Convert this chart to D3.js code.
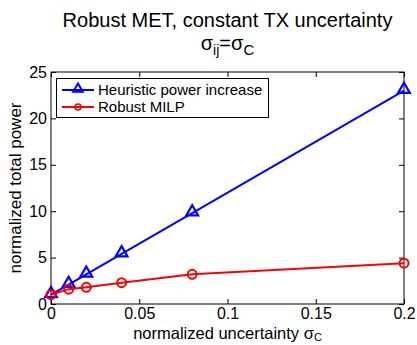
<!DOCTYPE html>
<html><head><meta charset="utf-8">
<script src="https://cdn.jsdelivr.net/npm/d3@7"></script>
<style>body{margin:0;background:#fff}svg{display:block}text{font-family:"Liberation Sans",Arial,Helvetica,sans-serif}</style>
</head><body><svg id="c" width="417" height="345"></svg>
<script>
const xValues = [0, 0.01, 0.02, 0.04, 0.08, 0.2];
const heuristic = [1, 2.1, 3.2, 5.4, 9.8, 23];
const robustMilp = [1, 1.6, 1.8, 2.3, 3.2, 4.4];
const xTicks = [0, 0.05, 0.1, 0.15, 0.2];
const yTicks = [0, 5, 10, 15, 20, 25];
const seriesNames = ["Heuristic power increase", "Robust MILP"];

const svg = d3.select("#c");
const L = 51, R = 404, T = 72, B = 304;
const x = d3.scaleLinear().domain([0, 0.2]).range([L, R]);
const y = d3.scaleLinear().domain([0, 25]).range([B, T]);

svg.append("rect").attr("x", 0).attr("y", 0).attr("width", 417).attr("height", 345).attr("fill", "#fff");

// axes
const fmt = d => d === 0 ? "0" : String(d);
svg.append("g").attr("transform", `translate(0,${B})`)
  .call(d3.axisBottom(x).tickValues(xTicks).tickSize(-5).tickPadding(4).tickFormat(fmt))
  .call(g => { g.select(".domain").remove(); g.selectAll("text").attr("font-size", 16).attr("fill", "#000"); });
svg.append("g").attr("transform", `translate(0,${T})`)
  .call(d3.axisTop(x).tickValues(xTicks).tickSize(-5).tickFormat(""))
  .call(g => g.select(".domain").remove());
svg.append("g").attr("transform", `translate(${L},0)`)
  .call(d3.axisLeft(y).tickValues(yTicks).tickSize(-5).tickPadding(4))
  .call(g => { g.select(".domain").remove(); g.selectAll("text").attr("font-size", 16).attr("fill", "#000"); });
svg.append("g").attr("transform", `translate(${R},0)`)
  .call(d3.axisRight(y).tickValues(yTicks).tickSize(-5).tickFormat(""))
  .call(g => g.select(".domain").remove());
svg.append("rect").attr("x", L).attr("y", T).attr("width", R - L).attr("height", B - T)
  .attr("fill", "none").attr("stroke", "#000").attr("stroke-width", 1);

// lines
const line = d3.line().x((d, i) => x(xValues[i])).y(d => y(d));
const tri = d3.symbol().type(d3.symbolTriangle).size(60);
const triSmall = d3.symbol().type(d3.symbolTriangle).size(40);
function drawSeries(vals, color, marker) {
  svg.append("path").datum(vals).attr("d", line).attr("fill", "none").attr("stroke", color).attr("stroke-width", 2);
  const g = svg.append("g");
  vals.forEach((v, i) => {
    if (marker === "tri") {
      g.append("path").attr("d", tri).attr("transform", `translate(${x(xValues[i])},${y(v) - 1})`)
        .attr("fill", "none").attr("stroke", color).attr("stroke-width", 2.2);
    } else {
      g.append("circle").attr("cx", x(xValues[i])).attr("cy", y(v)).attr("r", 4.5)
        .attr("fill", "none").attr("stroke", color).attr("stroke-width", 2);
    }
  });
}
drawSeries(heuristic, "#0000ff", "tri");
drawSeries(robustMilp, "#ff0000", "circ");

// legend
const lg = svg.append("g");
lg.append("rect").attr("x", 56.5).attr("y", 78.5).attr("width", 212).attr("height", 39)
  .attr("fill", "#fff").attr("stroke", "#000").attr("stroke-width", 1);
const colors = ["#0000ff", "#ff0000"];
seriesNames.forEach((name, i) => {
  const yy = 90 + i * 17;
  lg.append("line").attr("x1", 62).attr("x2", 94).attr("y1", yy).attr("y2", yy).attr("stroke", colors[i]).attr("stroke-width", 2);
  if (i === 0) lg.append("path").attr("d", triSmall).attr("transform", `translate(78,${yy - 1})`).attr("fill", "none").attr("stroke", colors[i]).attr("stroke-width", 2);
  else lg.append("circle").attr("cx", 78).attr("cy", yy).attr("r", 3).attr("fill", "none").attr("stroke", colors[i]).attr("stroke-width", 1.6);
  lg.append("text").attr("x", 98).attr("y", yy + 5).attr("font-size", 15).text(name);
});

// title
const cx = (L + R) / 2;
svg.append("text").attr("x", cx).attr("y", 27).attr("text-anchor", "middle").attr("font-size", 20)
  .text("Robust MET, constant TX uncertainty");
const t2 = svg.append("text").attr("x", cx).attr("y", 50).attr("text-anchor", "middle").attr("font-size", 20);
t2.append("tspan").text("σ");
t2.append("tspan").attr("font-size", 14).attr("dy", 5).text("ij");
t2.append("tspan").attr("dy", -5).text("=σ");
t2.append("tspan").attr("font-size", 15).attr("dy", 5).text("C");

// axis labels
svg.append("text").attr("transform", `translate(21,${(T + B) / 2}) rotate(-90)`).attr("text-anchor", "middle")
  .attr("font-size", 17).text("normalized total power");
const xl = svg.append("text").attr("x", cx).attr("y", 339).attr("text-anchor", "middle").attr("font-size", 16.5);
xl.append("tspan").text("normalized uncertainty σ");
xl.append("tspan").attr("font-size", 11).attr("dy", 2).text("C");
</script></body></html>
